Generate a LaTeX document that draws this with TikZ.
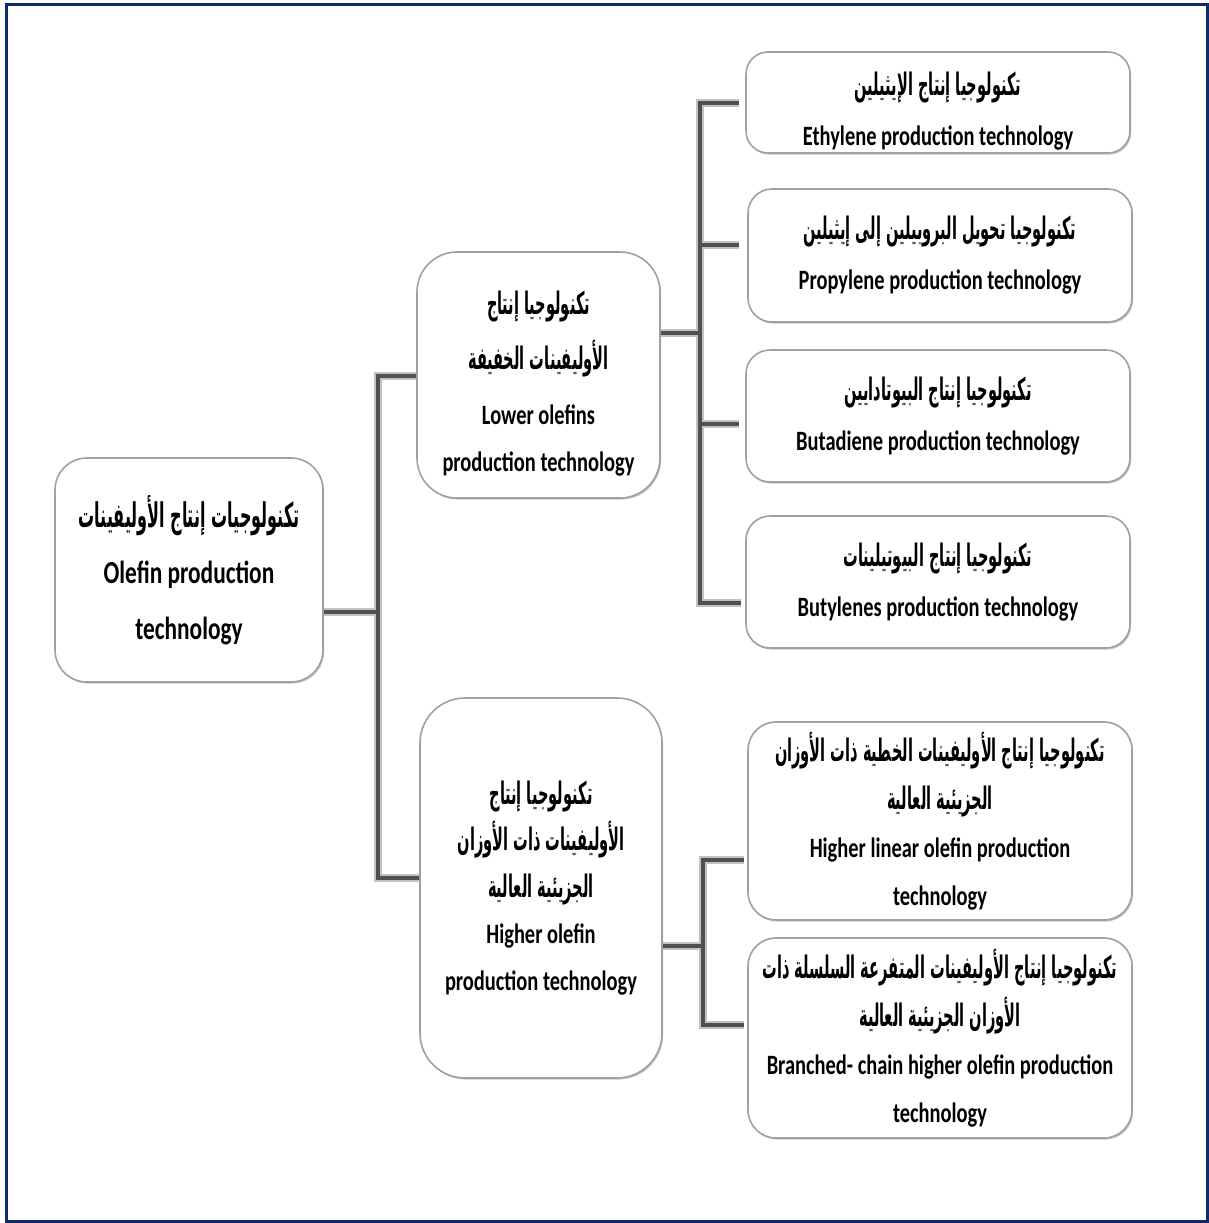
\documentclass[tikz,border=0pt]{standalone}
\usepackage{fontspec}
\usetikzlibrary{shadows}
\TeXXeTstate=1
\newfontfamily\en[FakeStretch=0.73]{Carlito Bold}
\newfontfamily\ar[Script=Arabic,FakeStretch=0.47]{DejaVu Sans Bold}
\definecolor{frame}{HTML}{0E2A6B}
\definecolor{boxline}{HTML}{A0A0A0}
\definecolor{connc}{HTML}{505050}
\tikzset{
  box/.style={draw=boxline, line width=1.6pt, fill=white, align=center,
    inner sep=0pt, text=black,
    drop shadow={shadow xshift=1.2pt, shadow yshift=-1.6pt, opacity=0.45, fill=gray}},
  conn/.style={draw=connc, line width=4.5pt},
  halo/.style={draw=connc!35, line width=7.5pt},
}
\newcommand{\AR}[1]{{\fontsize{31}{\baselineskip}\ar\beginR #1\endR}}
\newcommand{\ARR}[1]{{\fontsize{34}{\baselineskip}\ar\beginR #1\endR}}
\begin{document}
\begin{tikzpicture}[x=1pt,y=-1pt]
\useasboundingbox (0,0) rectangle (1209,1223);
\draw[frame, line width=3pt] (6.5,4.5) rectangle (1207.5,1221.5);

% boxes
\node[box, rounded corners=32pt, minimum width=268pt, minimum height=224pt,
  font=\fontsize{32}{56}\selectfont\en] (root) at (189,570)
  {\ARR{تكنولوجيات إنتاج الأوليفينات}\\Olefin production\\technology};
\node[box, rounded corners=40pt, minimum width=243pt, minimum height=246pt,
  font=\fontsize{28}{47}\selectfont\en] (low) at (538.5,375)
  {\AR{\rule{0pt}{40pt}تكنولوجيا إنتاج}\\[8pt]\AR{الأوليفينات الخفيفة}\\[8pt]Lower olefins\\production technology};
\node[box, rounded corners=45pt, minimum width=242pt, minimum height=380pt,
  font=\fontsize{28}{46.5}\selectfont\en] (high) at (541,888)
  {\AR{تكنولوجيا إنتاج}\\\AR{الأوليفينات ذات الأوزان}\\\AR{الجزيئية العالية}\\Higher olefin\\production technology};

\node[box, rounded corners=22pt, minimum width=384pt, minimum height=101pt,
  font=\fontsize{28}{50}\selectfont\en] (eth) at (938,102.5)
  {\AR{\rule{0pt}{40pt}تكنولوجيا إنتاج  الإيثيلين}\\Ethylene production technology};
\node[box, rounded corners=24pt, minimum width=384pt, minimum height=133pt,
  font=\fontsize{28}{50}\selectfont\en] (pro) at (940,255.5)
  {\AR{تكنولوجيا تحويل البروبيلين إلى إيثيلين}\\Propylene production technology};
\node[box, rounded corners=24pt, minimum width=384pt, minimum height=132pt,
  font=\fontsize{28}{50}\selectfont\en] (but) at (938,416)
  {\AR{تكنولوجيا إنتاج  البيوتادايين}\\Butadiene production technology};
\node[box, rounded corners=24pt, minimum width=384pt, minimum height=132pt,
  font=\fontsize{28}{50}\selectfont\en] (bty) at (938,582)
  {\AR{تكنولوجيا إنتاج  البيوتيلينات}\\Butylenes production technology};
\node[box, rounded corners=28pt, minimum width=384pt, minimum height=198pt,
  font=\fontsize{28}{48}\selectfont\en] (hlin) at (940,821)
  {\AR{تكنولوجيا إنتاج  الأوليفينات الخطية ذات الأوزان}\\\AR{الجزيئية العالية}\\Higher linear olefin production\\technology};
\node[box, rounded corners=28pt, minimum width=384pt, minimum height=200pt,
  font=\fontsize{28}{48}\selectfont\en] (br) at (940,1038)
  {\AR{تكنولوجيا إنتاج  الأوليفينات  المتفرعة السلسلة  ذات}\\\AR{الأوزان الجزيئية العالية}\\Branched- chain higher olefin production\\technology};

% connector points
\coordinate (r1) at (378,612);
\coordinate (lowc) at ([yshift=-1pt]low.west);
\coordinate (highc) at ([yshift=10pt]high.west);
\coordinate (l1) at (700,333);
\coordinate (ethc) at ([xshift=-6pt,yshift=-0.5pt]eth.west);
\coordinate (proc) at ([xshift=-8pt,yshift=10.5pt]pro.west);
\coordinate (butc) at ([xshift=-6pt,yshift=-8pt]but.west);
\coordinate (btyc) at ([xshift=-4pt,yshift=-21pt]bty.west);
\coordinate (h1) at (703,946);
\coordinate (hlinc) at ([xshift=-3pt,yshift=-39pt]hlin.west);
\coordinate (brc) at ([xshift=-3pt,yshift=13pt]br.west);

% connectors
\foreach \s in {halo,conn}{
  \draw[\s] (root.east |- r1) -- (r1);
  \draw[\s] (lowc) -| (r1) |- (highc);
  \draw[\s] (low.east |- l1) -- (l1);
  \draw[\s] (ethc) -| (l1) |- (btyc);
  \draw[\s] (l1 |- proc) -- (proc);
  \draw[\s] (l1 |- butc) -- (butc);
  \draw[\s] (high.east |- h1) -- (h1);
  \draw[\s] (hlinc) -| (h1) |- (brc);
}
\end{tikzpicture}
\end{document}
